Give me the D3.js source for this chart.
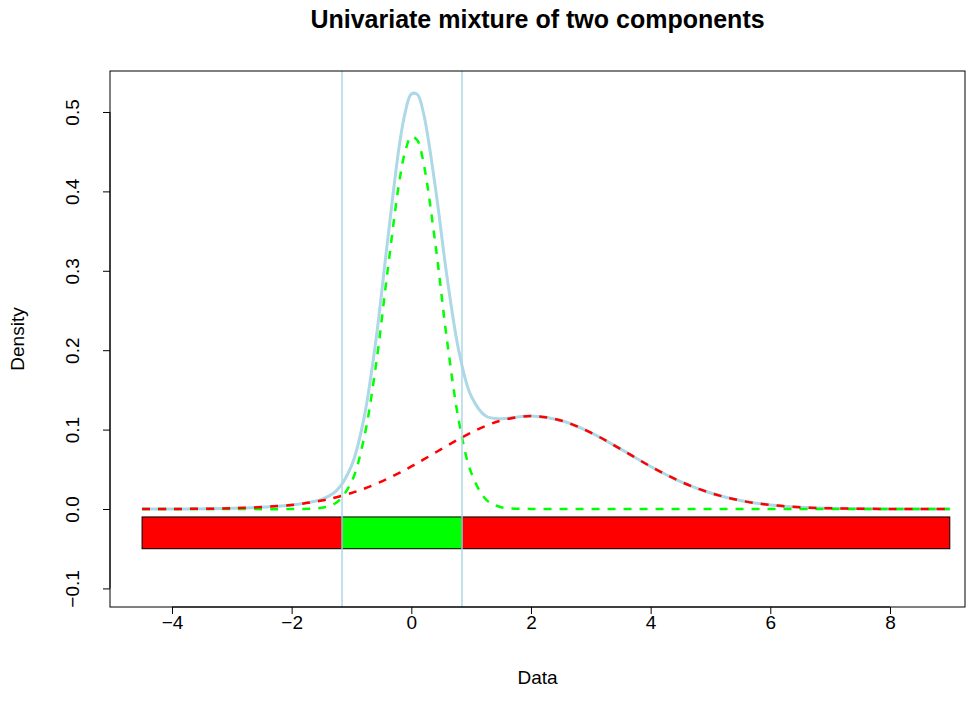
<!DOCTYPE html>
<html><head><meta charset="utf-8">
<script src="https://cdn.jsdelivr.net/npm/d3@7"></script>
<style>body{margin:0;background:#fff}svg{display:block}text{font-family:"Liberation Sans",Arial,sans-serif;fill:#000}</style>
</head><body>
<svg id="c" width="976" height="708"></svg>
<script>
// Data
const xs      = [-4.5,-4,-3,-2,-1.5,-1.25,-1,-0.8,-0.6,-0.4,-0.2,-0.1,0,0.1,0.2,0.4,0.6,0.8,1,1.25,1.5,2,2.5,3,3.5,4,4.5,5,5.5,6,6.5,7,8,9];
const comp1   = [0,0,0,0,0.0015,0.0082,0.0342,0.0858,0.1764,0.2977,0.4125,0.4508,0.4690,0.4643,0.4376,0.3352,0.2107,0.1087,0.0461,0.0119,0.0023,0.0001,0,0,0,0,0,0,0,0,0,0,0,0];
const comp2   = [0.00003,0.0001,0.0009,0.0051,0.0107,0.0149,0.0202,0.0253,0.0313,0.0380,0.0455,0.0494,0.0536,0.0578,0.0621,0.0710,0.0798,0.0883,0.0962,0.1048,0.1114,0.1170,0.1114,0.0962,0.0754,0.0536,0.0345,0.0202,0.0107,0.0051,0.0022,0.0009,0.0001,0.00001];
const mixture = [0.00003,0.0001,0.0009,0.0051,0.0122,0.0231,0.0544,0.1111,0.2077,0.3357,0.4580,0.5002,0.5226,0.5221,0.4997,0.4062,0.2905,0.1970,0.1423,0.1167,0.1137,0.1171,0.1114,0.0962,0.0754,0.0536,0.0345,0.0202,0.0107,0.0051,0.0022,0.0009,0.0001,0.00001];
const cuts    = [-1.158, 0.847];
const segStarts = [-4.5, -1.158, 0.847];
const segEnds   = [-1.158, 0.847, 9.0];
const segColors = ["#ff0000", "#00ff00", "#ff0000"];
const barTop = -0.01, barBottom = -0.05;
const xTicks = [-4,-2,0,2,4,6,8];
const yTicks = [-0.1,0,0.1,0.2,0.3,0.4,0.5];

const svg = d3.select("#c");
const L=110,R=965,T=71,B=607;
const x = d3.scaleLinear().domain([-5.036, 9.254]).range([L,R]);
const y = d3.scaleLinear().domain([-0.1234, 0.5516]).range([B,T]);

const line = arr => d3.line().x((d,i)=>x(xs[i])).y(d=>y(d)).curve(d3.curveCatmullRom.alpha(0.5))(arr);

svg.append("path").attr("d", line(mixture)).attr("fill","none").attr("stroke","#add8e6").attr("stroke-width",3);
svg.append("path").attr("d", line(comp1)).attr("fill","none").attr("stroke","#00ff00").attr("stroke-width",2.5).attr("stroke-dasharray","8,8");
svg.append("path").attr("d", line(comp2)).attr("fill","none").attr("stroke","#ff0000").attr("stroke-width",2.5).attr("stroke-dasharray","8,8");

svg.selectAll("rect.seg").data(segStarts).join("rect").attr("class","seg")
  .attr("x",(d)=>x(d)).attr("width",(d,i)=>x(segEnds[i])-x(d))
  .attr("y",y(barTop)).attr("height",y(barBottom)-y(barTop))
  .attr("fill",(d,i)=>segColors[i]).attr("stroke","#000").attr("stroke-width",1);

svg.selectAll("line.cut").data(cuts).join("line").attr("class","cut")
  .attr("x1",d=>x(d)).attr("x2",d=>x(d)).attr("y1",T).attr("y2",B)
  .attr("stroke","#add8e6").attr("stroke-width",1.5);

// box
svg.append("rect").attr("x",L).attr("y",T).attr("width",R-L).attr("height",B-T).attr("fill","none").attr("stroke","#000").attr("stroke-width",1);

// axes
const FS = "19px";
const xa = svg.append("g").attr("transform",`translate(0,${B})`)
  .call(d3.axisBottom(x).tickValues(xTicks).tickSize(7).tickPadding(6).tickFormat(d=>d<0?"\u2212"+Math.abs(d):d));
const ya = svg.append("g").attr("transform",`translate(${L},0)`)
  .call(d3.axisLeft(y).tickValues(yTicks).tickSize(7).tickPadding(6).tickFormat(d=>d<0?"\u2212"+Math.abs(d).toFixed(1):d.toFixed(1)));
[xa,ya].forEach(g=>{g.select(".domain").remove();g.selectAll(".tick line").attr("stroke","#000");
  g.selectAll("text").style("font-size",FS).style("font-family",'"Liberation Sans",Arial,sans-serif').attr("fill","#000");});
xa.selectAll(".tick text").attr("y",9).attr("dy","0.71em");
xa.append("line").attr("x1",x(-4)).attr("x2",x(8)).attr("stroke","#000");
ya.append("line").attr("y1",y(-0.1)).attr("y2",y(0.5)).attr("stroke","#000");
ya.selectAll(".tick text").attr("transform","rotate(-90)")
  .attr("x",0).attr("dy",0).attr("y",-31).attr("text-anchor","middle");

svg.append("text").attr("x",(L+R)/2).attr("y",28).attr("text-anchor","middle").style("font-size","25px").style("font-weight","bold").text("Univariate mixture of two components");
svg.append("text").attr("x",(L+R)/2).attr("y",684).attr("text-anchor","middle").style("font-size",FS).text("Data");
svg.append("text").attr("transform",`translate(24,${(T+B)/2}) rotate(-90)`).attr("text-anchor","middle").style("font-size",FS).text("Density");
</script>
</body></html>
